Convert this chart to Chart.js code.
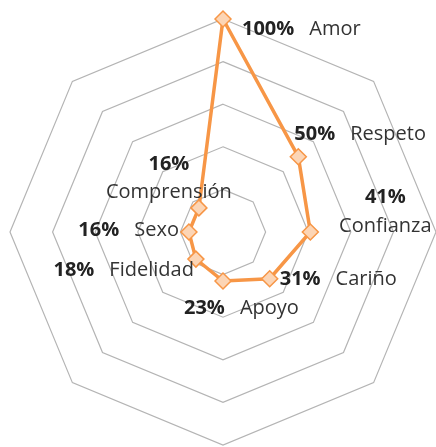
<!DOCTYPE html>
<html>
<head>
<meta charset="utf-8">
<script src="https://cdn.jsdelivr.net/npm/chart.js@4.4.1/dist/chart.umd.min.js"></script>
<style>
  html, body { margin: 0; padding: 0; background: #fff; }
  #wrap { width: 436px; height: 447px; position: relative; }
</style>
</head>
<body>
<div id="wrap"><canvas id="radar"></canvas></div>
<script>
// Datos del gráfico
const categorias = ["Amor", "Respeto", "Confianza", "Cariño", "Apoyo", "Fidelidad", "Sexo", "Comprensión"];
const valores = [100, 50, 41, 31, 23, 18, 16, 16];
const escalaMax = 100;
const escalaPaso = 20;

// Posición de cada etiqueta respecto a su punto (dx, dy) y forma
// inline: "pct  nombre" en una línea; stack: pct arriba, nombre abajo
const etiquetas = [
  { modo: "inline", align: "left", dx: 19, dy: 10 },
  { modo: "inline", align: "left", dx: -4, dy: -22 },
  { modo: "stack", dx: 75, dy: -35, dy2: -6 },
  { modo: "inline", align: "left", dx: 10, dy: 1 },
  { modo: "inline", align: "left", dx: -39, dy: 27 },
  { modo: "inline", align: "right", dx: -2, dy: 11 },
  { modo: "inline", align: "right", dx: -10, dy: -2 },
  { modo: "stack", dx: -30, dy: -44, dy2: -16 },
];

const FUENTE = '"Open Sans", sans-serif';
const TAM = 20;
const HUECO = 15;

// Plugin para dibujar "xx%  Nombre" junto a cada punto
const etiquetasPlugin = {
  id: "etiquetasDatos",
  afterDatasetsDraw(chart) {
    const ctx = chart.ctx;
    const meta = chart.getDatasetMeta(0);
    ctx.save();
    ctx.textBaseline = "middle";
    meta.data.forEach((pt, i) => {
      const cfg = etiquetas[i];
      const pct = valores[i] + "%";
      const nombre = categorias[i];
      const fPct = "bold " + TAM + "px " + FUENTE;
      const fNom = TAM + "px " + FUENTE;
      if (cfg.modo === "stack") {
        ctx.textAlign = "center";
        ctx.font = fPct;
        ctx.fillStyle = "#222222";
        ctx.fillText(pct, pt.x + cfg.dx, pt.y + cfg.dy);
        ctx.font = fNom;
        ctx.fillStyle = "#333333";
        ctx.fillText(nombre, pt.x + cfg.dx, pt.y + cfg.dy2);
      } else {
        ctx.textAlign = "left";
        ctx.font = fPct;
        const wPct = ctx.measureText(pct).width;
        ctx.font = fNom;
        const wNom = ctx.measureText(nombre).width;
        let x0 = pt.x + cfg.dx;
        if (cfg.align === "right") x0 -= wPct + HUECO + wNom;
        const y = pt.y + cfg.dy;
        ctx.font = fPct;
        ctx.fillStyle = "#222222";
        ctx.fillText(pct, x0, y);
        ctx.font = fNom;
        ctx.fillStyle = "#333333";
        ctx.fillText(nombre, x0 + wPct + HUECO, y);
      }
    });
    ctx.restore();
  },
};

const ctx = document.getElementById("radar").getContext("2d");
new Chart(ctx, {
  type: "radar",
  data: {
    labels: categorias,
    datasets: [
      {
        data: valores,
        borderColor: "#F79646",
        borderWidth: 3.5,
        fill: false,
        pointStyle: "rectRot",
        pointRadius: 8,
        pointBackgroundColor: "#FCD5B5",
        pointBorderColor: "#F79646",
        pointBorderWidth: 1.5,
        tension: 0,
      },
    ],
  },
  options: {
    responsive: true,
    maintainAspectRatio: false,
    animation: false,
    layout: { padding: { left: 10, right: 0, top: 17, bottom: 0 } },
    scales: {
      r: {
        min: 0,
        max: escalaMax,
        ticks: { display: false, stepSize: escalaPaso },
        grid: { color: "#b4b4b4", lineWidth: 1.2 },
        angleLines: { display: false },
        pointLabels: { display: false },
      },
    },
    plugins: {
      legend: { display: false },
      tooltip: { enabled: false },
    },
  },
  plugins: [etiquetasPlugin],
});
</script>
</body>
</html>
